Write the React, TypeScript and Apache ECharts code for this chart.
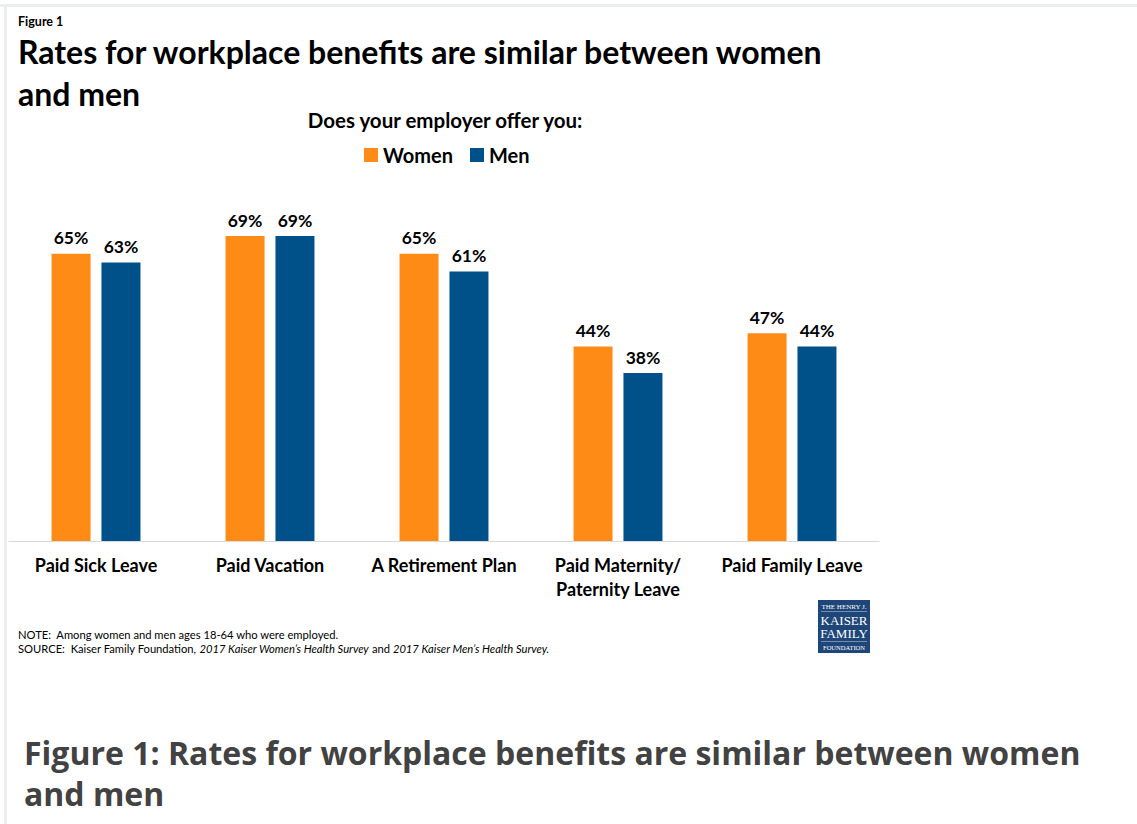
import React, { useEffect, useRef } from "react";
import * as echarts from "echarts";

const categories = [
  "Paid Sick Leave",
  "Paid Vacation",
  "A Retirement Plan",
  "Paid Maternity/\nPaternity Leave",
  "Paid Family Leave",
];
const women = [65, 69, 65, 44, 47];
const men = [63, 69, 61, 38, 44];
const seriesNames = ["Women", "Men"];

const ORANGE = "#FF8B17";
const BLUE = "#005089";
const FONT = "Lato, 'Open Sans', sans-serif";

export default function App() {
  const ref = useRef<HTMLDivElement>(null);
  useEffect(() => {
    if (!ref.current) return;
    const chart = echarts.init(ref.current, undefined, { renderer: "svg" });
    const label = {
      show: true,
      position: "top" as const,
      distance: 7,
      formatter: "{c}%",
      fontFamily: FONT,
      fontWeight: "bold" as const,
      fontSize: 17.5,
      color: "#000",
    };
    chart.setOption({
      animation: false,
      backgroundColor: "#fff",
      grid: { left: 9, width: 870, top: 99, height: 442, containLabel: false },
      legend: {
        data: seriesNames,
        left: 364,
        top: 145,
        padding: 0,
        icon: "rect",
        itemWidth: 14,
        itemHeight: 14,
        itemGap: 17,
        textStyle: { fontFamily: FONT, fontWeight: "bold", fontSize: 20, color: "#000" },
      },
      xAxis: {
        type: "category",
        data: categories,
        axisLine: { lineStyle: { color: "#d9d9d9", width: 1 } },
        axisTick: { show: false },
        axisLabel: {
          margin: 12,
          fontFamily: FONT,
          fontWeight: "bold",
          fontSize: 18,
          lineHeight: 24,
          color: "#000",
          interval: 0,
        },
      },
      yAxis: { type: "value", min: 0, max: 100, show: false, splitLine: { show: false } },
      series: [
        {
          name: seriesNames[0],
          type: "bar",
          data: women,
          barWidth: 39,
          barGap: "28%",
          itemStyle: { color: ORANGE },
          label,
        },
        {
          name: seriesNames[1],
          type: "bar",
          data: men,
          barWidth: 39,
          barGap: "28%",
          itemStyle: { color: BLUE },
          label,
        },
      ],
      graphic: [
        { type: "rect", shape: { x: 0, y: 4, width: 1137, height: 3 }, style: { fill: "#ebeeed" } },
        { type: "rect", shape: { x: 4, y: 4, width: 3, height: 820 }, style: { fill: "#ebeeed" } },
        {
          type: "text",
          x: 18,
          y: 21,
          style: { text: "Figure 1", fontFamily: FONT, fontWeight: "bold", fontSize: 12.5, fill: "#000", verticalAlign: "middle" },
        },
        {
          type: "text",
          x: 18,
          y: 51,
          style: {
            text: "Rates for workplace benefits are similar between women",
            fontFamily: FONT,
            fontWeight: "bold",
            fontSize: 32,
            fill: "#000",
            verticalAlign: "middle",
          },
        },
        {
          type: "text",
          x: 18,
          y: 93,
          style: { text: "and men", fontFamily: FONT, fontWeight: "bold", fontSize: 32, fill: "#000", verticalAlign: "middle" },
        },
        {
          type: "text",
          x: 445,
          y: 120,
          style: {
            text: "Does your employer offer you:",
            fontFamily: FONT,
            fontWeight: "bold",
            fontSize: 20.5,
            fill: "#000",
            align: "center",
            verticalAlign: "middle",
          },
        },
        {
          type: "text",
          x: 18,
          y: 634,
          style: {
            text: "NOTE:  Among women and men ages 18-64 who were employed.",
            fontFamily: FONT,
            fontSize: 11.2,
            fill: "#000",
            verticalAlign: "middle",
          },
        },
        {
          type: "text",
          x: 18,
          y: 648,
          style: {
            text: "{n|SOURCE:  Kaiser Family Foundation, }{i|2017 Kaiser Women\u2019s Health Survey}{n| and }{i|2017 Kaiser Men\u2019s Health Survey.}",
            fontFamily: FONT,
            fontSize: 11.2,
            fill: "#000",
            verticalAlign: "middle",
            rich: {
              n: { fontFamily: FONT, fontSize: 11.2, fill: "#000" },
              i: { fontFamily: FONT, fontSize: 11.2, fontStyle: "italic", fill: "#000" },
            },
          },
        },
        // logo
        { type: "rect", shape: { x: 818, y: 600, width: 52, height: 53 }, style: { fill: "#1f4678" } },
        {
          type: "text",
          x: 844,
          y: 607,
          style: { text: "THE HENRY J.", fontFamily: "'Liberation Serif', serif", fontSize: 7, fill: "#fff", align: "center", verticalAlign: "middle" },
        },
        { type: "rect", shape: { x: 821, y: 611, width: 46, height: 0.6 }, style: { fill: "#cfd8e6" } },
        {
          type: "text",
          x: 844,
          y: 620,
          style: { text: "KAISER", fontFamily: "'Liberation Serif', serif", fontSize: 13, fill: "#fff", align: "center", verticalAlign: "middle" },
        },
        {
          type: "text",
          x: 844,
          y: 633,
          style: { text: "FAMILY", fontFamily: "'Liberation Serif', serif", fontSize: 13, fill: "#fff", align: "center", verticalAlign: "middle" },
        },
        { type: "rect", shape: { x: 821, y: 641, width: 46, height: 0.6 }, style: { fill: "#cfd8e6" } },
        {
          type: "text",
          x: 844,
          y: 647,
          style: { text: "FOUNDATION", fontFamily: "'Liberation Serif', serif", fontSize: 6.5, fill: "#fff", align: "center", verticalAlign: "middle" },
        },
        // bottom caption
        {
          type: "text",
          x: 24,
          y: 752,
          style: {
            text: "Figure 1: Rates for workplace benefits are similar between women",
            fontFamily: "'Open Sans', sans-serif",
            fontWeight: "bold",
            fontSize: 32,
            fill: "#424242",
            verticalAlign: "middle",
          },
        },
        {
          type: "text",
          x: 24,
          y: 793,
          style: {
            text: "and men",
            fontFamily: "'Open Sans', sans-serif",
            fontWeight: "bold",
            fontSize: 32,
            fill: "#424242",
            verticalAlign: "middle",
          },
        },
      ],
    });
    return () => chart.dispose();
  }, []);
  return <div ref={ref} style={{ position: "absolute", left: 0, top: 0, width: 1137, height: 824 }} />;
}
